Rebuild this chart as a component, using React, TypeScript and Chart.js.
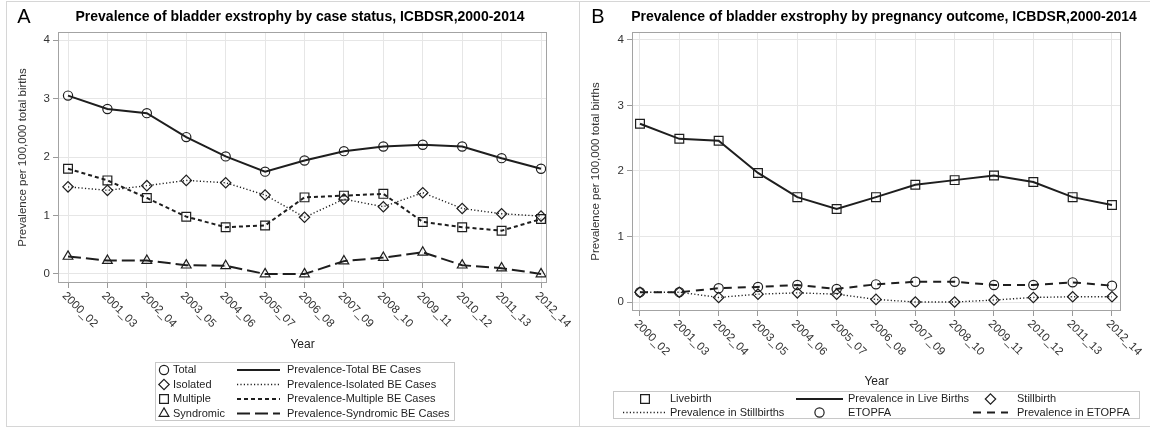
import React, { useEffect, useRef } from "react";
import { Chart, registerables } from "chart.js";

Chart.register(...registerables);

// ---------- data ----------
const categories = [
  "2000_02", "2001_03", "2002_04", "2003_05", "2004_06", "2005_07", "2006_08",
  "2007_09", "2008_10", "2009_11", "2010_12", "2011_13", "2012_14",
];
const yTickValues = [0, 1, 2, 3, 4];

// Panel A: by case status
const totalBE = [3.05, 2.82, 2.75, 2.34, 2.01, 1.75, 1.94, 2.1, 2.18, 2.21, 2.18, 1.98, 1.8];
const isolatedBE = [1.49, 1.43, 1.51, 1.6, 1.56, 1.35, 0.97, 1.28, 1.15, 1.39, 1.12, 1.03, 0.99];
const multipleBE = [1.8, 1.6, 1.3, 0.98, 0.8, 0.83, 1.31, 1.34, 1.37, 0.89, 0.8, 0.74, 0.94];
const syndromicBE = [0.3, 0.23, 0.23, 0.15, 0.14, 0.0, 0.0, 0.22, 0.28, 0.37, 0.15, 0.1, 0.0];

// Panel B: by pregnancy outcome
const liveBirths = [2.72, 2.49, 2.46, 1.97, 1.6, 1.42, 1.6, 1.79, 1.86, 1.93, 1.83, 1.6, 1.48];
const stillBirths = [0.15, 0.15, 0.07, 0.12, 0.14, 0.12, 0.04, 0.0, 0.0, 0.03, 0.07, 0.08, 0.08];
const etopfa = [0.15, 0.15, 0.21, 0.23, 0.26, 0.2, 0.27, 0.31, 0.31, 0.26, 0.26, 0.3, 0.25];

const titleA = "Prevalence of bladder exstrophy by case status, ICBDSR,2000-2014";
const titleB = "Prevalence of bladder exstrophy by pregnancy outcome, ICBDSR,2000-2014";
const yAxisTitle = "Prevalence per 100,000 total births";
const xAxisTitle = "Year";

const legendAMarkers = ["Total", "Isolated", "Multiple", "Syndromic"];
const legendALines = [
  "Prevalence-Total BE Cases",
  "Prevalence-Isolated BE Cases",
  "Prevalence-Multiple BE Cases",
  "Prevalence-Syndromic BE Cases",
];
const legendBEntries = [
  "Livebirth",
  "Prevalence in Live Births",
  "Stillbirth",
  "Prevalence in Stillbirths",
  "ETOPFA",
  "Prevalence in ETOPFA",
];

// ---------- styling ----------
const FONT = "'Liberation Sans', Arial, Helvetica, sans-serif";
const INK = "#1e1e1e";
const DOTTED = [1.2, 2.2];
const SHORTDASH = [4, 3];
const LONGDASH = [13, 5];
const MEDDASH = [8, 6];

type Style = "circle" | "rectRot" | "rect" | "triangle";
const radiusFor: Record<Style, number> = { circle: 4.6, rectRot: 5.2, rect: 6.2, triangle: 5.6 };

function markerPath(ctx: CanvasRenderingContext2D, style: Style, x: number, y: number) {
  const r = radiusFor[style];
  ctx.beginPath();
  if (style === "circle") {
    ctx.arc(x, y, r, 0, Math.PI * 2);
  } else if (style === "rect") {
    const s = Math.SQRT1_2 * r;
    ctx.rect(x - s, y - s, 2 * s, 2 * s);
  } else if (style === "rectRot") {
    ctx.moveTo(x, y - r);
    ctx.lineTo(x + r, y);
    ctx.lineTo(x, y + r);
    ctx.lineTo(x - r, y);
    ctx.closePath();
  } else {
    for (let k = 0; k < 3; k++) {
      const a = (k * 2 * Math.PI) / 3;
      const px = x + Math.sin(a) * r;
      const py = y - Math.cos(a) * r;
      if (k === 0) ctx.moveTo(px, py);
      else ctx.lineTo(px, py);
    }
    ctx.closePath();
  }
  ctx.stroke();
}

function seg(ctx: CanvasRenderingContext2D, x1: number, x2: number, y: number, dash: number[], w: number) {
  ctx.save();
  ctx.strokeStyle = INK;
  ctx.lineWidth = w;
  ctx.setLineDash(dash);
  ctx.beginPath();
  ctx.moveTo(x1, y);
  ctx.lineTo(x2, y);
  ctx.stroke();
  ctx.restore();
}

type SeriesDef = { label: string; data: number[]; style: Style; dash: number[]; width: number };

type PanelDef = {
  width: number;
  height: number;
  left: number;
  plot: { left: number; top: number; right: number; bottom: number };
  xRange: [number, number];
  yRange: [number, number];
  letter: string;
  letterX: number;
  title: string;
  titleX: number;
  yTitleX: number;
  xTitleY: number;
  series: SeriesDef[];
  legend: (ctx: CanvasRenderingContext2D) => void;
};

function legendA(ctx: CanvasRenderingContext2D) {
  const styles: Style[] = ["circle", "rectRot", "rect", "triangle"];
  const dashes = [[], DOTTED, SHORTDASH, LONGDASH];
  const widths = [2, 1.3, 2, 2];
  ctx.save();
  ctx.strokeStyle = "#c8c8c8";
  ctx.lineWidth = 1;
  ctx.strokeRect(155.5, 362.5, 299, 58);
  ctx.font = `11px ${FONT}`;
  ctx.fillStyle = INK;
  ctx.textBaseline = "middle";
  const rows = [370, 384.5, 399, 413.5];
  rows.forEach((y, i) => {
    ctx.strokeStyle = INK;
    ctx.lineWidth = 1.2;
    ctx.setLineDash([]);
    markerPath(ctx, styles[i], 164, y);
    ctx.fillText(legendAMarkers[i], 173, y);
    seg(ctx, 237, 280, y, dashes[i], widths[i]);
    ctx.fillText(legendALines[i], 287, y);
  });
  ctx.restore();
}

function legendB(ctx: CanvasRenderingContext2D) {
  ctx.save();
  ctx.strokeStyle = "#c8c8c8";
  ctx.lineWidth = 1;
  ctx.strokeRect(33.5, 391.5, 526, 27);
  ctx.font = `11px ${FONT}`;
  ctx.fillStyle = INK;
  ctx.textBaseline = "middle";
  const cols = [
    { s: 43, e: 87, t: 90 },
    { s: 216, e: 263, t: 268 },
    { s: 393, e: 428, t: 437 },
  ];
  const rows = [399, 412.5];
  const kinds: Array<{ marker?: Style; dash?: number[]; w?: number }> = [
    { marker: "rect" },
    { dash: [], w: 2 },
    { marker: "rectRot" },
    { dash: DOTTED, w: 1.3 },
    { marker: "circle" },
    { dash: MEDDASH, w: 2 },
  ];
  kinds.forEach((k, i) => {
    const c = cols[i % 3];
    const y = rows[Math.floor(i / 3)];
    if (k.marker) {
      ctx.strokeStyle = INK;
      ctx.lineWidth = 1.2;
      ctx.setLineDash([]);
      markerPath(ctx, k.marker, (c.s + c.e) / 2, y);
    } else {
      seg(ctx, c.s, c.e, y, k.dash || [], k.w || 2);
    }
    ctx.fillText(legendBEntries[i], c.t, y);
  });
  ctx.restore();
}

const panelA: PanelDef = {
  width: 580,
  height: 430,
  left: 0,
  plot: { left: 58, top: 32, right: 547, bottom: 283 },
  xRange: [-0.254, 12.152],
  yRange: [-0.154, 4.137],
  letter: "A",
  letterX: 24,
  title: titleA,
  titleX: 300,
  yTitleX: 23,
  xTitleY: 345,
  series: [
    { label: "Total", data: totalBE, style: "circle", dash: [], width: 2 },
    { label: "Isolated", data: isolatedBE, style: "rectRot", dash: DOTTED, width: 1.4 },
    { label: "Multiple", data: multipleBE, style: "rect", dash: SHORTDASH, width: 2 },
    { label: "Syndromic", data: syndromicBE, style: "triangle", dash: LONGDASH, width: 2 },
  ],
  legend: legendA,
};

const panelB: PanelDef = {
  width: 570,
  height: 430,
  left: 580,
  plot: { left: 52, top: 32, right: 541, bottom: 311 },
  xRange: [-0.203, 12.229],
  yRange: [-0.137, 4.12],
  letter: "B",
  letterX: 18,
  title: titleB,
  titleX: 304,
  yTitleX: 16,
  xTitleY: 382,
  series: [
    { label: "Livebirth", data: liveBirths, style: "rect", dash: [], width: 2 },
    { label: "Stillbirth", data: stillBirths, style: "rectRot", dash: DOTTED, width: 1.4 },
    { label: "ETOPFA", data: etopfa, style: "circle", dash: MEDDASH, width: 2 },
  ],
  legend: legendB,
};

function makeDecor(p: PanelDef) {
  return {
    id: "decor" + p.letter,
    afterDraw(chart: any) {
      const { ctx, chartArea: ca, scales } = chart;
      const xs = scales.x;
      ctx.save();
      // plot frame
      ctx.strokeStyle = "#a3a3a3";
      ctx.lineWidth = 1;
      ctx.setLineDash([]);
      ctx.strokeRect(Math.round(ca.left) + 0.5, Math.round(ca.top) + 0.5, Math.round(ca.right - ca.left) - 1, Math.round(ca.bottom - ca.top) - 1);

      // letter + title
      ctx.fillStyle = "#000";
      ctx.textBaseline = "middle";
      ctx.textAlign = "center";
      ctx.font = `20px ${FONT}`;
      ctx.fillText(p.letter, p.letterX, 17);
      ctx.font = `bold 14px ${FONT}`;
      ctx.fillText(p.title, p.titleX, 17);

      // y axis title
      ctx.save();
      ctx.font = `11.5px ${FONT}`;
      ctx.fillStyle = "#333";
      ctx.translate(p.yTitleX, (ca.top + ca.bottom) / 2);
      ctx.rotate(-Math.PI / 2);
      ctx.fillText(yAxisTitle, 0, 0);
      ctx.restore();

      // x tick labels (rotated clockwise, reading downwards)
      ctx.font = `11.5px ${FONT}`;
      ctx.fillStyle = "#333";
      ctx.textAlign = "left";
      categories.forEach((lab, i) => {
        const px = xs.getPixelForValue(i);
        ctx.save();
        ctx.translate(px - 4, ca.bottom + 11);
        ctx.rotate(Math.PI / 4);
        ctx.fillText(lab, 0, 0);
        ctx.restore();
      });

      // x axis title
      ctx.textAlign = "center";
      ctx.font = `12px ${FONT}`;
      ctx.fillStyle = "#222";
      ctx.fillText(xAxisTitle, (ca.left + ca.right) / 2, p.xTitleY);

      ctx.restore();
      p.legend(ctx);
    },
  };
}

function Panel({ p }: { p: PanelDef }) {
  const ref = useRef<HTMLCanvasElement | null>(null);
  useEffect(() => {
    if (!ref.current) return;
    const chart = new Chart(ref.current, {
      type: "line",
      data: {
        datasets: p.series.map((s) => ({
          label: s.label,
          data: s.data.map((v, i) => ({ x: i, y: v })),
          borderColor: INK,
          borderWidth: s.width,
          borderDash: s.dash,
          tension: 0,
          fill: false,
          pointStyle: s.style,
          pointRadius: radiusFor[s.style],
          pointBorderColor: INK,
          pointBorderWidth: 1.2,
          pointBackgroundColor: "rgba(0,0,0,0)",
        })),
      },
      options: {
        responsive: false,
        animation: false,
        events: [],
        layout: {
          padding: { left: 0, top: p.plot.top, right: p.width - p.plot.right, bottom: 0 },
        },
        plugins: {
          legend: { display: false },
          tooltip: { enabled: false },
          title: { display: false },
        },
        scales: {
          x: {
            type: "linear",
            min: p.xRange[0],
            max: p.xRange[1],
            afterBuildTicks: (s: any) => {
              s.ticks = categories.map((_, i) => ({ value: i }));
            },
            afterFit: (s: any) => {
              s.height = p.height - p.plot.bottom;
            },
            ticks: { display: false },
            grid: { color: "#e6e6e6", tickColor: "#9a9a9a", tickLength: 5, drawTicks: true },
            border: { display: false },
          },
          y: {
            type: "linear",
            min: p.yRange[0],
            max: p.yRange[1],
            afterBuildTicks: (s: any) => {
              s.ticks = yTickValues.map((v) => ({ value: v }));
            },
            afterFit: (s: any) => {
              s.width = p.plot.left;
            },
            ticks: { font: { family: FONT, size: 11.5 }, color: "#333", padding: 3 },
            grid: { color: "#e6e6e6", tickColor: "#9a9a9a", tickLength: 5, drawTicks: true },
            border: { display: false },
          },
        },
      },
      plugins: [makeDecor(p)],
    });
    return () => chart.destroy();
  }, [p]);
  return (
    <canvas
      ref={ref}
      width={p.width}
      height={p.height}
      style={{ position: "absolute", left: p.left, top: 0, width: p.width, height: p.height, display: "block" }}
    />
  );
}

export default function App() {
  return (
    <div style={{ position: "fixed", left: 0, top: 0, width: 1150, height: 430, background: "#fff", overflow: "hidden" }}>
      <div style={{ position: "absolute", left: 6, top: 1, width: 574, height: 426, border: "1px solid #d6d6d6", boxSizing: "border-box" }} />
      <div style={{ position: "absolute", left: 579, top: 1, width: 580, height: 426, border: "1px solid #d6d6d6", boxSizing: "border-box" }} />
      <Panel p={panelA} />
      <Panel p={panelB} />
    </div>
  );
}
